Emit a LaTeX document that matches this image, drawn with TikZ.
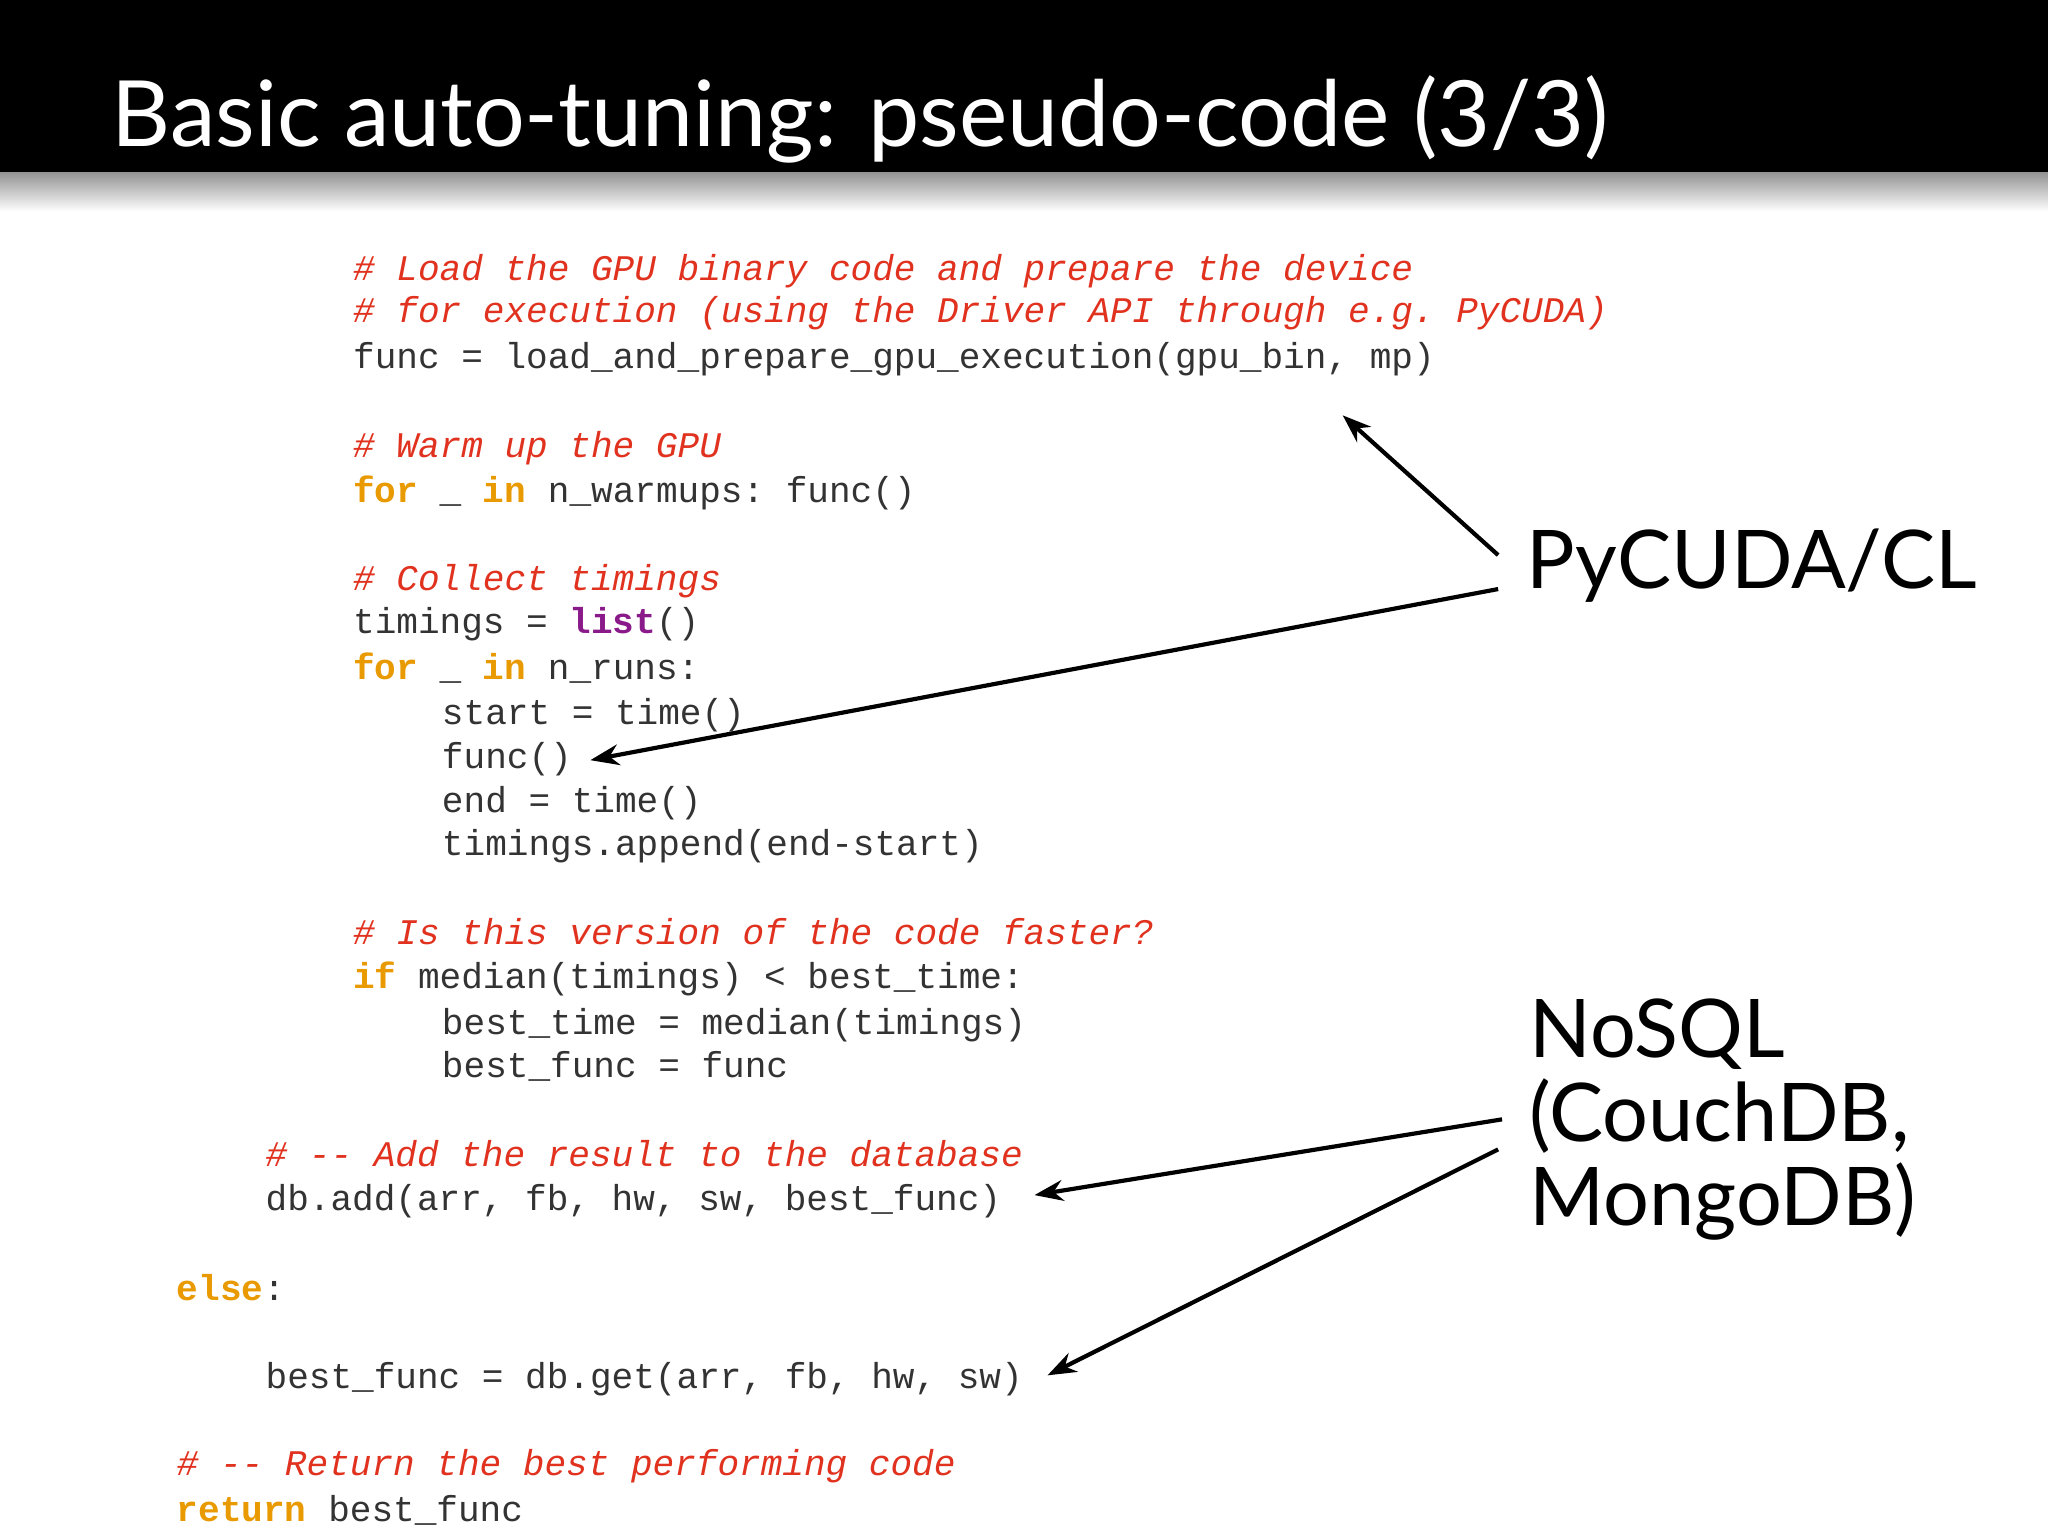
\documentclass[tikz,border=0pt]{standalone}
\usepackage{fontspec}
\setmonofont{Liberation Mono}
\setsansfont{Lato}
\usetikzlibrary{arrows.meta}
\definecolor{cmt}{HTML}{E0321E}
\definecolor{kwd}{HTML}{E89A00}
\definecolor{prp}{HTML}{8A1A8A}
\newcommand{\cm}[1]{\textcolor{cmt}{\itshape #1}}
\newcommand{\kw}[1]{\textcolor{kwd}{\bfseries #1}}
\begin{document}
\begin{tikzpicture}[x=0.5pt,y=-0.5pt,
  code/.style={anchor=base west,inner sep=0,font=\ttfamily\fontsize{13.8}{16}\selectfont,text=black!80},
  lbl/.style={anchor=west,align=left,font=\sffamily\fontsize{31}{34}\selectfont},
  arr/.style={-{Stealth[length=11pt,width=8pt]},line width=1.6pt}]
\useasboundingbox (0,0) rectangle (1568,1176);
\fill[white] (0,0) rectangle (1568,1176);
\shade[top color=black!45,bottom color=white] (0,130) rectangle (1568,162);
\fill[black] (0,0) rectangle (1568,132);
\node[anchor=base west,inner sep=0,text=white,font=\sffamily\fontsize{35}{40}\selectfont] (title) at (85,112) {Basic auto-tuning: pseudo-code (3/3)};
\node[code] (l1) at (270,215) {\cm{\# Load the GPU binary code and prepare the device}};
\node[code] (l2) at (270,247) {\cm{\# for execution (using the Driver API through e.g. PyCUDA)}};
\node[code] (l3) at (270,282) {func = load\_and\_prepare\_gpu\_execution(gpu\_bin, mp)};
\node[code] (l4) at (270,350) {\cm{\# Warm up the GPU}};
\node[code] (l5) at (270,385) {\kw{for} \_ \kw{in} n\_warmups: func()};
\node[code] (l6) at (270,452) {\cm{\# Collect timings}};
\node[code] (l7) at (270,485) {timings = \textcolor{prp}{\bfseries list}()};
\node[code] (l8) at (270,520) {\kw{for} \_ \kw{in} n\_runs:};
\node[code] (l9) at (338,555) {start = time()};
\node[code] (l10) at (338,588) {func()};
\node[code] (l11) at (338,622) {end = time()};
\node[code] (l12) at (338,655) {timings.append(end-start)};
\node[code] (l13) at (270,723) {\cm{\# Is this version of the code faster?}};
\node[code] (l14) at (270,757) {\kw{if} median(timings) < best\_time:};
\node[code] (l15) at (338,792) {best\_time = median(timings)};
\node[code] (l16) at (338,825) {best\_func = func};
\node[code] (l17) at (203,893) {\cm{\# -- Add the result to the database}};
\node[code] (l18) at (203,927) {db.add(arr, fb, hw, sw, best\_func)};
\node[code] (l19) at (135,996) {\kw{else}:};
\node[code] (l20) at (203,1063) {best\_func = db.get(arr, fb, hw, sw)};
\node[code] (l21) at (135,1130) {\cm{\# -- Return the best performing code}};
\node[code] (l22) at (135,1165) {\kw{return} best\_func};
\node[lbl] (py) at (1162,433) {PyCUDA/CL};
\node[lbl,anchor=north west] (nosql) at (1164,758) {NoSQL\\[-2pt](CouchDB,\\[-2pt]MongoDB)};
\coordinate (a1) at (1147,425); \coordinate (t1) at (1028,318);
\coordinate (a2) at (1147,451); \coordinate (t2) at (452,582);
\coordinate (a3) at (1150,857); \coordinate (t3) at (792,915);
\coordinate (a4) at (1147,880); \coordinate (t4) at (802,1053);
\draw[arr] (a1) -- (t1);
\draw[arr] (a2) -- (t2);
\draw[arr] (a3) -- (t3);
\draw[arr] (a4) -- (t4);
\end{tikzpicture}
\end{document}
